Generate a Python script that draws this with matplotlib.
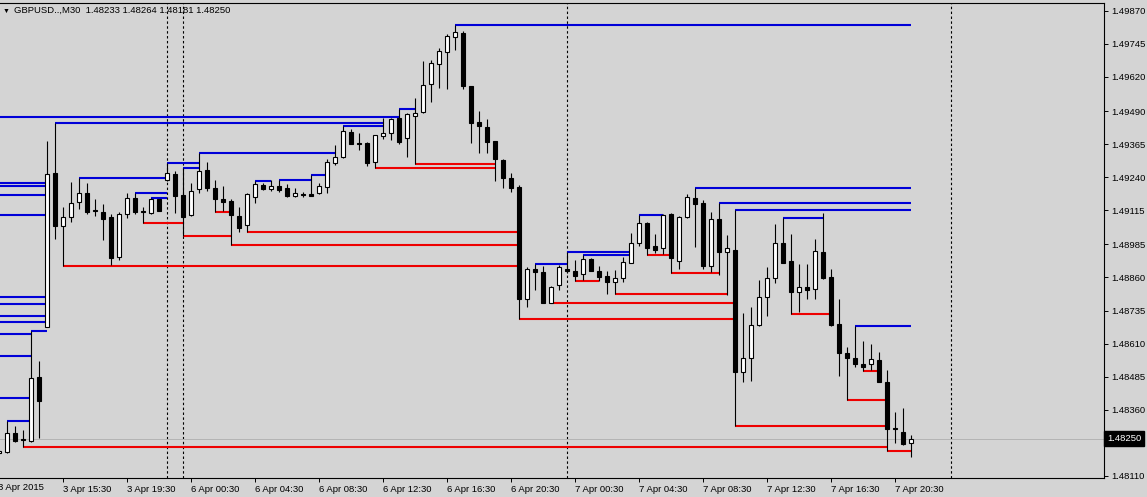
import numpy as np
import matplotlib
matplotlib.use('Agg')
import matplotlib.pyplot as plt
import matplotlib.transforms as mtransforms
from matplotlib.patches import Rectangle

plt.rcParams['font.family'] = ['Liberation Sans', 'DejaVu Sans']

# GBPUSD M30, first visible bar is bar -1 (3 Apr 11:30)
FIRST_BAR = -1

opens = [
    1.48196, 1.48200, 1.48271, 1.48247, 1.48243, 1.48483, 1.48672, 1.49254, 1.49056, 1.49088,
    1.49145, 1.49181, 1.49115, 1.49109, 1.49088, 1.48939, 1.49099, 1.49160, 1.49112, 1.49103,
    1.49157, 1.49228, 1.49252, 1.49172, 1.49095, 1.49194, 1.49266, 1.49198, 1.49157, 1.49150,
    1.49093, 1.49059, 1.49166, 1.49210, 1.49194, 1.49206, 1.49198, 1.49170, 1.49176, 1.49176,
    1.49179, 1.49201, 1.49294, 1.49315, 1.49412, 1.49368, 1.49368, 1.49296, 1.49397, 1.49406,
    1.49464, 1.49387, 1.49472, 1.49485, 1.49591, 1.49667, 1.49712, 1.49769, 1.49786, 1.49585,
    1.49447, 1.49430, 1.49377, 1.49305, 1.49237, 1.49203, 1.48777, 1.48892, 1.48879, 1.48763,
    1.48830, 1.48892, 1.48885, 1.48872, 1.48929, 1.48886, 1.48866, 1.48844, 1.48857, 1.48916,
    1.48989, 1.49067, 1.48979, 1.48973, 1.49100, 1.48922, 1.49090, 1.49160, 1.49143, 1.48904,
    1.49080, 1.48958, 1.48964, 1.48501, 1.48554, 1.48680, 1.48785, 1.48857, 1.48989, 1.48922,
    1.48804, 1.48825, 1.48815, 1.48955, 1.48863, 1.48684, 1.48575, 1.48554, 1.48531, 1.48531,
    1.48548, 1.48463, 1.48292, 1.48274, 1.48233,
]
highs = [
    1.48207, 1.48317, 1.48298, 1.48283, 1.48658, 1.48544, 1.49377, 1.49446, 1.49126, 1.49220,
    1.49238, 1.49217, 1.49156, 1.49137, 1.49100, 1.49109, 1.49179, 1.49181, 1.49128, 1.49161,
    1.49158, 1.49292, 1.49263, 1.49276, 1.49217, 1.49332, 1.49296, 1.49229, 1.49207, 1.49156,
    1.49128, 1.49178, 1.49226, 1.49217, 1.49228, 1.49229, 1.49213, 1.49198, 1.49185, 1.49249,
    1.49217, 1.49307, 1.49361, 1.49433, 1.49421, 1.49406, 1.49374, 1.49401, 1.49462, 1.49465,
    1.49497, 1.49481, 1.49538, 1.49679, 1.49683, 1.49727, 1.49782, 1.49816, 1.49793, 1.49585,
    1.49490, 1.49460, 1.49377, 1.49307, 1.49256, 1.49210, 1.48901, 1.48911, 1.48902, 1.48828,
    1.48907, 1.48958, 1.48926, 1.48945, 1.48933, 1.48905, 1.48886, 1.48887, 1.48938, 1.49028,
    1.49097, 1.49071, 1.49025, 1.49100, 1.49104, 1.49094, 1.49176, 1.49200, 1.49153, 1.49109,
    1.49143, 1.49021, 1.49115, 1.48725, 1.48749, 1.48851, 1.48901, 1.49061, 1.49086, 1.49023,
    1.48910, 1.48910, 1.49005, 1.49104, 1.48892, 1.48779, 1.48596, 1.48678, 1.48620, 1.48608,
    1.48577, 1.48510, 1.48350, 1.48365, 1.48264,
]
lows = [
    1.48192, 1.48196, 1.48239, 1.48217, 1.48237, 1.48253, 1.48671, 1.49005, 1.48904, 1.49071,
    1.49119, 1.49100, 1.49093, 1.49002, 1.48907, 1.48926, 1.49084, 1.49100, 1.49067, 1.49099,
    1.49110, 1.49225, 1.49103, 1.49017, 1.49093, 1.49181, 1.49189, 1.49109, 1.49112, 1.48983,
    1.49033, 1.49031, 1.49143, 1.49191, 1.49189, 1.49185, 1.49166, 1.49166, 1.49166, 1.49168,
    1.49176, 1.49179, 1.49286, 1.49314, 1.49364, 1.49343, 1.49283, 1.49274, 1.49384, 1.49380,
    1.49365, 1.49317, 1.49288, 1.49484, 1.49523, 1.49576, 1.49573, 1.49721, 1.49572, 1.49370,
    1.49332, 1.49332, 1.49225, 1.49200, 1.49185, 1.48703, 1.48747, 1.48813, 1.48763, 1.48762,
    1.48811, 1.48877, 1.48847, 1.48851, 1.48885, 1.48845, 1.48799, 1.48796, 1.48842, 1.48914,
    1.48979, 1.48945, 1.48951, 1.48949, 1.48876, 1.48891, 1.49086, 1.48977, 1.48893, 1.48881,
    1.48869, 1.48792, 1.48298, 1.48466, 1.48469, 1.48678, 1.48715, 1.48840, 1.48915, 1.48722,
    1.48731, 1.48779, 1.48779, 1.48854, 1.48676, 1.48488, 1.48396, 1.48520, 1.48506, 1.48510,
    1.48463, 1.48203, 1.48232, 1.48226, 1.48181,
]
closes = [
    1.48203, 1.48271, 1.48241, 1.48245, 1.48480, 1.48394, 1.49252, 1.49056, 1.49088, 1.49141,
    1.49179, 1.49109, 1.49110, 1.49081, 1.48935, 1.49099, 1.49160, 1.49107, 1.49106, 1.49156,
    1.49113, 1.49254, 1.49168, 1.49090, 1.49189, 1.49264, 1.49197, 1.49156, 1.49147, 1.49095,
    1.49046, 1.49176, 1.49214, 1.49195, 1.49206, 1.49191, 1.49170, 1.49179, 1.49173, 1.49170,
    1.49206, 1.49296, 1.49317, 1.49414, 1.49365, 1.49365, 1.49294, 1.49399, 1.49406, 1.49460,
    1.49373, 1.49478, 1.49481, 1.49589, 1.49673, 1.49717, 1.49774, 1.49788, 1.49585, 1.49446,
    1.49435, 1.49374, 1.49307, 1.49238, 1.49200, 1.48779, 1.48892, 1.48879, 1.48763, 1.48825,
    1.48898, 1.48886, 1.48866, 1.48930, 1.48886, 1.48863, 1.48844, 1.48857, 1.48918, 1.48992,
    1.49065, 1.48973, 1.48964, 1.49098, 1.48933, 1.49090, 1.49163, 1.49138, 1.48904, 1.49080,
    1.48958, 1.48971, 1.48501, 1.48554, 1.48680, 1.48785, 1.48857, 1.48989, 1.48916, 1.48804,
    1.48825, 1.48813, 1.48960, 1.48859, 1.48680, 1.48573, 1.48554, 1.48531, 1.48522, 1.48550,
    1.48463, 1.48285, 1.48285, 1.48230, 1.48250,
]

# resistance lines: (bar of the high, bar that broke it)
blue_lines = [(0, 3), (3, 5), (6, 47), (9, 20), (16, 20), (18, 20), (20, 24), (22, 24),
              (24, 41), (31, 33), (34, 38), (38, 40), (42, 47), (49, 51), (56, 113),
              (66, 70), (70, 78), (72, 78), (79, 82), (86, 113), (89, 113), (91, 113),
              (97, 102), (106, 113)]
# resistance lines that start before the first visible bar: (level, bar that broke it)
blue_old = [(1.48646, 3), (1.48563, 3), (1.48405, 3), (1.49219, 5), (1.49206, 5),
            (1.49173, 5), (1.49097, 5), (1.48787, 5), (1.48759, 5), (1.48715, 5),
            (1.48690, 5), (1.49468, 49)]
# support lines: (bar of the low, bar that broke it)
red_lines = [(2, 110), (7, 64), (17, 22), (22, 28), (26, 28), (28, 64), (30, 64), (46, 61),
             (51, 61), (64, 91), (68, 91), (71, 74), (76, 90), (80, 83), (83, 89),
             (91, 110), (98, 103), (105, 110), (107, 109), (110, 113)]

separators = [20, 22, 70, 118]
xtick_bars = [7, 15, 23, 31, 39, 47, 55, 63, 71, 79, 87, 95, 103, 111]
xtick_labels = ['3 Apr 15:30', '3 Apr 19:30', '6 Apr 00:30', '6 Apr 04:30', '6 Apr 08:30',
                '6 Apr 12:30', '6 Apr 16:30', '6 Apr 20:30', '7 Apr 00:30', '7 Apr 04:30',
                '7 Apr 08:30', '7 Apr 12:30', '7 Apr 16:30', '7 Apr 20:30']
ytick_values = [1.49870, 1.49745, 1.49620, 1.49490, 1.49365, 1.49240, 1.49115, 1.48985,
                1.48860, 1.48735, 1.48610, 1.48485, 1.48360, 1.48235, 1.48110]
last_price = 1.48250
title = 'GBPUSD..,M30  1.48233 1.48264 1.48181 1.48250'

BG = '#d4d4d4'
BLUE = '#0000d8'
RED = '#ee0000'
W, H = 1147, 497

fig = plt.figure(figsize=(W / 100, H / 100), dpi=100, facecolor=BG)
ax_left, ax_right, ax_top, ax_bot = 0, 1104, 2.7, 478.3
ax = fig.add_axes([ax_left / W, 1 - ax_bot / H, (ax_right - ax_left) / W, (ax_bot - ax_top) / H])
ax.set_facecolor(BG)

bars = np.arange(len(opens)) + FIRST_BAR
last_bar = bars[-1]


def idx(k):
    return k - FIRST_BAR


# indicator lines under the candles
for k0, k1 in blue_lines:
    ax.hlines(highs[idx(k0)], k0, k1, color=BLUE, lw=1.5, zorder=2)
for level, k1 in blue_old:
    ax.hlines(level, -5, k1, color=BLUE, lw=1.5, zorder=2)
for k0, k1 in red_lines:
    ax.hlines(lows[idx(k0)], k0, k1, color=RED, lw=1.5, zorder=2)

# candles
body_w = 0.54
for x, o, h, l, c in zip(bars, opens, highs, lows, closes):
    ax.vlines(x, l, h, color='black', lw=0.8, zorder=3)
    bottom = min(o, c)
    height = max(abs(c - o), 0.000004)
    fc = 'white' if c >= o else 'black'
    ax.add_patch(Rectangle((x - body_w / 2, bottom), body_w, height,
                           facecolor=fc, edgecolor='black', lw=0.8, zorder=4))

# period separators
for k in separators:
    ax.axvline(k, color='black', lw=0.8, linestyle=(0, (2.2, 2.2)), zorder=1)

# last price line
ax.axhline(last_price, color='#b4b4b4', lw=0.7, zorder=1)

ax.set_xlim((ax_left - 7) / 8, (ax_right - 7) / 8)
ax.set_ylim(1.48100, 1.49900)

ax.spines['left'].set_visible(False)
for s in ('top', 'right', 'bottom'):
    ax.spines[s].set_color('black')
    ax.spines[s].set_linewidth(0.8)

# the 1.48235 label sits under the last price box, so only its tick is shown
ax.yaxis.tick_right()
ax.set_yticks(ytick_values)
ax.set_yticklabels(['' if v == 1.48235 else '%.5f' % v for v in ytick_values])
ax.tick_params(axis='y', direction='out', length=3, width=0.7, pad=2, labelsize=6.8, colors='black')

ax.set_xticks(xtick_bars)
ax.set_xticklabels(xtick_labels)
for lab in ax.get_xticklabels():
    lab.set_horizontalalignment('left')
ax.tick_params(axis='x', direction='out', length=3, width=0.7, pad=2, labelsize=6.8, colors='black')

# first date label (partly cut off at the left edge)
trans = mtransforms.blended_transform_factory(ax.transData, ax.transAxes)
ax.text((-2 - 7) / 8, -0.0105, '3 Apr 2015', transform=trans, ha='left', va='top',
        fontsize=6.8, clip_on=False)

# last price box
ax.annotate('%.5f' % last_price, xy=(1.0, last_price), xycoords=('axes fraction', 'data'),
            xytext=(3, 0), textcoords='offset pixels', ha='left', va='center',
            color='white', fontsize=6.8, zorder=10, annotation_clip=False,
            bbox=dict(boxstyle='square,pad=0.3', facecolor='black', edgecolor='black'))

# header
fig.text(2.5 / W, 1 - 11 / H, '\u25bc', fontsize=5, va='center', ha='left')
fig.text(14 / W, 1 - 10.7 / H, title, fontsize=6.8, va='center', ha='left')

fig.savefig('out.png', dpi=100, facecolor=BG)
